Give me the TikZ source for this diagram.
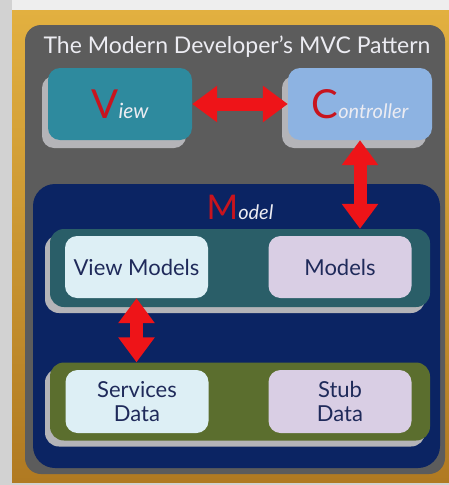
\documentclass[tikz,border=0pt]{standalone}
\usepackage{fontspec}
\setmainfont{Lato}
\usetikzlibrary{shadows,arrows.meta}
\definecolor{bggray}{HTML}{D2D2D2}
\definecolor{bglight}{HTML}{EEEEEE}
\definecolor{goldA}{HTML}{E2B040}
\definecolor{goldB}{HTML}{B07A22}
\definecolor{panelgray}{HTML}{5C5C5C}
\definecolor{viewfill}{HTML}{2E8A9E}
\definecolor{ctrlfill}{HTML}{8DB3E2}
\definecolor{navy}{HTML}{0B2463}
\definecolor{bandteal}{HTML}{2A5E68}
\definecolor{bandolive}{HTML}{5B6E2E}
\definecolor{lightblue}{HTML}{DDEFF5}
\definecolor{lavender}{HTML}{D9CEE4}
\definecolor{shadowgray}{HTML}{B4B4B8}
\definecolor{initred}{HTML}{C8141E}
\definecolor{arrowred}{HTML}{EE1418}
\definecolor{darktext}{HTML}{1F2A5A}
\definecolor{offwhite}{HTML}{ECECF2}
\begin{document}
\begin{tikzpicture}[x=1pt,y=-1pt,
  shadowed/.style={drop shadow={shadow xshift=-6pt,shadow yshift=-8pt,fill=shadowgray,opacity=1}},
  topbox/.style={rounded corners=12pt,minimum width=144pt,minimum height=72pt,inner sep=0pt,shadowed},
  band/.style={rounded corners=14pt,minimum width=380pt,minimum height=78pt,inner sep=0pt,
    drop shadow={shadow xshift=-5pt,shadow yshift=-6pt,fill=shadowgray,opacity=1}},
  inbox/.style={rounded corners=12pt,minimum width=143pt,minimum height=62pt,inner sep=0pt,
    text=darktext,font=\fontsize{22}{24}\selectfont,align=center},
  bigarrow/.style={draw=arrowred,line width=13pt,
    {Triangle[length=25pt,width=35pt]}-{Triangle[length=25pt,width=35pt]}},
  title/.style={text=offwhite,font=\fontsize{23}{26}\selectfont,inner sep=0pt}
]
\useasboundingbox (0,0) rectangle (449,485);
\fill[bggray] (0,0) rectangle (449,485);
\fill[bglight] (12,0) rectangle (449,10);
\shade[top color=goldA,bottom color=goldB] (12,10) rectangle (449,482);
\fill[panelgray,rounded corners=16pt] (25,25) rectangle (445,474);
\node[title] (title) at (237,47) {The Modern Developer's MVC Pattern};

\node[topbox,fill=viewfill] (view) at (120,104)
  {{\color{initred}\fontsize{40}{40}\selectfont V}{\color{offwhite}\itshape\fontsize{21}{24}\selectfont iew}};
\node[topbox,fill=ctrlfill] (ctrl) at (360,104)
  {{\color{initred}\fontsize{40}{40}\selectfont C}{\color{offwhite}\itshape\fontsize{20}{24}\selectfont ontroller}};

\node[fill=navy,rounded corners=22pt,minimum width=407pt,minimum height=284pt,inner sep=0pt] (model) at (236.5,326) {};
\node[inner sep=0pt] (modellabel) at (240,207)
  {{\color{initred}\fontsize{34}{34}\selectfont M}{\color{offwhite}\itshape\fontsize{20}{24}\selectfont odel}};

\node[band,fill=bandteal] (band1) at (240,268) {};
\node[band,fill=bandolive] (band2) at (240,401.5) {};

\node[inbox,fill=lightblue] (vm) at (136.5,267) {View Models};
\node[inbox,fill=lavender] (models) at (340,267) {Models};
\node[inbox,fill=lightblue,minimum height=63pt] (sd) at (137,401.5) {Services\\Data};
\node[inbox,fill=lavender,minimum height=63pt] (stub) at (340,401.5) {Stub\\Data};

\draw[bigarrow] (view.east) -- (ctrl.west);
\draw[bigarrow] (ctrl.south) -- (ctrl.south |- band1.north);
\draw[bigarrow] (vm.south) -- (vm.south |- band2.north);
\end{tikzpicture}
\end{document}
